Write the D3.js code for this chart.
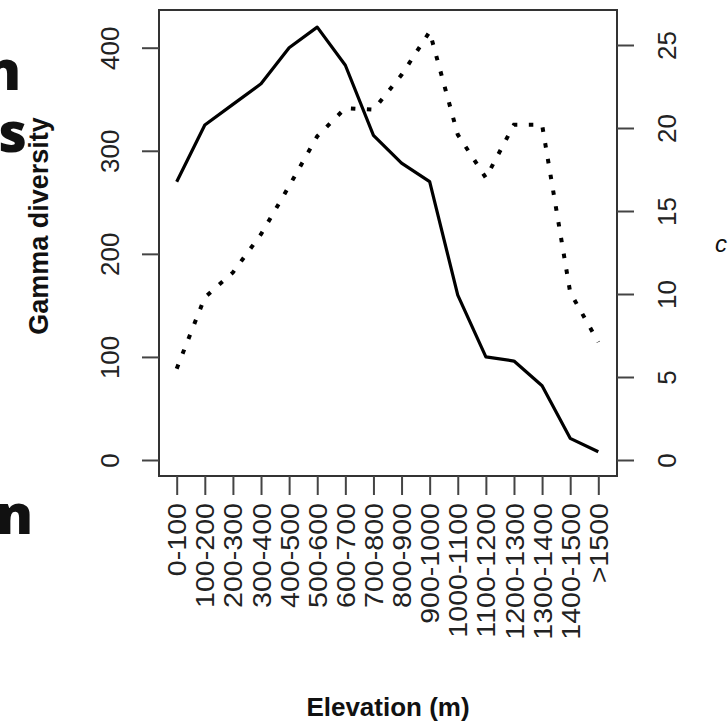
<!DOCTYPE html>
<html>
<head>
<meta charset="utf-8">
<script src="https://cdn.jsdelivr.net/npm/d3@7"></script>
<style>
  html, body { margin: 0; padding: 0; background: #fff; }
  svg { display: block; }
</style>
</head>
<body>
<svg id="chart" width="728" height="722"></svg>
<script>
// ---- data ----
const categories = ["0-100","100-200","200-300","300-400","400-500","500-600","600-700","700-800","800-900","900-1000","1000-1100","1100-1200","1200-1300","1300-1400","1400-1500",">1500"];
const gammaDiversity = [270, 325, 345, 365, 400, 420, 383, 315, 288, 270, 160, 100, 96, 72, 21, 8];
const dottedSeries = [5.5, 9.8, 11.3, 13.6, 16.5, 19.5, 21.2, 21.1, 23.2, 25.8, 19.6, 17.0, 20.2, 20.2, 10.1, 7.1];
const leftTicks = [0, 100, 200, 300, 400];
const rightTicks = [0, 5, 10, 15, 20, 25];
const yTitle = "Gamma diversity";
const xTitle = "Elevation (m)";

// ---- layout ----
const svg = d3.select("#chart");
const frame = {left: 159, right: 617, top: 10, bottom: 476};
const tickFont = "'Liberation Sans', Arial, sans-serif";

const x = d3.scalePoint().domain(categories).range([176.7, 598.3]);
const yL = d3.scaleLinear().domain([0, 400]).range([460, 47.7]);
const yR = d3.scaleLinear().domain([0, 25]).range([460, 45]);

// frame
svg.append("rect")
  .attr("x", frame.left).attr("y", frame.top)
  .attr("width", frame.right - frame.left).attr("height", frame.bottom - frame.top)
  .attr("fill", "none").attr("stroke", "#333").attr("stroke-width", 2);

// left axis
const gL = svg.append("g").attr("transform", `translate(${frame.left},0)`)
  .call(d3.axisLeft(yL).tickValues(leftTicks).tickSize(17).tickSizeOuter(0).tickFormat(d3.format("d")));
gL.select(".domain").remove();
gL.selectAll(".tick line").attr("stroke", "#444").attr("stroke-width", 2);
gL.selectAll(".tick text")
  .attr("x", 0).attr("dy", null)
  .attr("transform", "translate(-49,0) rotate(-90)")
  .attr("text-anchor", "middle").attr("dominant-baseline", "central")
  .style("font-family", tickFont).style("font-size", "26px").attr("fill", "#222");

// right axis
const gR = svg.append("g").attr("transform", `translate(${frame.right},0)`)
  .call(d3.axisRight(yR).tickValues(rightTicks).tickSize(17).tickSizeOuter(0).tickFormat(d3.format("d")));
gR.select(".domain").remove();
gR.selectAll(".tick line").attr("stroke", "#444").attr("stroke-width", 2);
gR.selectAll(".tick text")
  .attr("x", 0).attr("dy", null)
  .attr("transform", "translate(50,0) rotate(-90)")
  .attr("text-anchor", "middle").attr("dominant-baseline", "central")
  .style("font-family", tickFont).style("font-size", "26px").attr("fill", "#222");

// bottom axis
const gB = svg.append("g").attr("transform", `translate(0,${frame.bottom})`)
  .call(d3.axisBottom(x).tickSize(19).tickSizeOuter(0));
gB.select(".domain").remove();
gB.selectAll(".tick line").attr("stroke", "#444").attr("stroke-width", 2);
gB.selectAll(".tick text")
  .attr("y", 0).attr("dy", null)
  .attr("transform", "translate(0,27) rotate(-90) scale(1.1,1)")
  .attr("text-anchor", "end").attr("dominant-baseline", "central")
  .style("font-family", tickFont).style("font-size", "26px").attr("fill", "#222");

// lines
const lineL = d3.line().x((d, i) => x(categories[i])).y(d => yL(d));
const lineR = d3.line().x((d, i) => x(categories[i])).y(d => yR(d));

svg.append("path").datum(dottedSeries)
  .attr("d", lineR).attr("fill", "none").attr("stroke", "#000")
  .attr("stroke-width", 4).attr("stroke-dasharray", "4.5 11.5");

svg.append("path").datum(gammaDiversity)
  .attr("d", lineL).attr("fill", "none").attr("stroke", "#000")
  .attr("stroke-width", 3.2).attr("stroke-linejoin", "round");

// axis titles
svg.append("text")
  .attr("transform", "translate(48,226) rotate(-90)")
  .attr("text-anchor", "middle")
  .style("font-family", tickFont).style("font-weight", "bold").style("font-size", "27px")
  .attr("fill", "#111").text(yTitle);

svg.append("text")
  .attr("x", (frame.left + frame.right) / 2).attr("y", 716)
  .attr("text-anchor", "middle")
  .style("font-family", tickFont).style("font-weight", "bold").style("font-size", "26px")
  .attr("fill", "#111").text(xTitle);

// cropped caption glyphs from surrounding page
const capFont = "'Open Sans', 'Noto Sans', sans-serif";
[["n", 21, 90], ["s", 27, 152], ["n", 33, 534]].forEach(([t, px, py]) => {
  svg.append("text").attr("x", px).attr("y", py).attr("text-anchor", "end")
    .style("font-family", capFont).style("font-weight", "800").style("font-size", "55px")
    .attr("fill", "#111").text(t);
});
svg.append("text").attr("x", 715).attr("y", 252)
  .style("font-family", tickFont).style("font-style", "italic").style("font-size", "24px")
  .attr("fill", "#111").text("c");
</script>
</body>
</html>
